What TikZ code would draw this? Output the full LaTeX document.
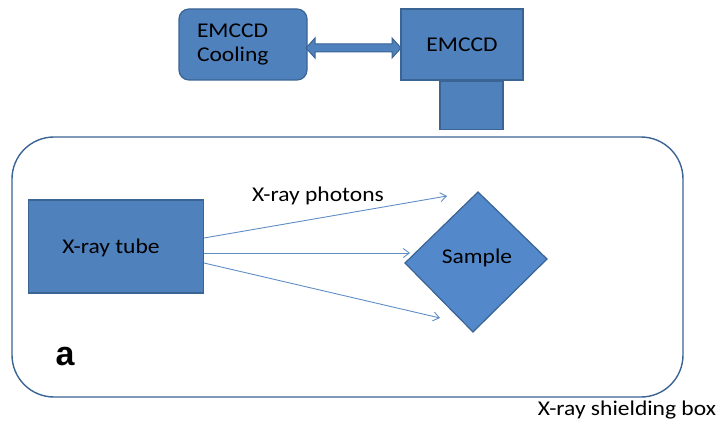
\documentclass[tikz,border=0pt]{standalone}
\usepackage{fontspec}
\setmainfont{Carlito}[FakeStretch=1.12]
\newfontfamily\labelfont{Liberation Sans}[BoldFont={Liberation Sans Bold}]
\usetikzlibrary{shapes.geometric,arrows.meta,calc}
\definecolor{bfill}{HTML}{4F81BD}
\definecolor{sfill}{HTML}{5388CA}
\definecolor{bline}{HTML}{3A6494}
\definecolor{rayc}{HTML}{5F8DC6}
\tikzset{
  x=1pt,y=-1pt,
  blk/.style={draw=bline,fill=bfill,line width=1.2pt,inner sep=0pt,font=\fontsize{21}{24}\selectfont},
  ray/.style={draw=rayc,line width=0.9pt,-{Straight Barb[length=6pt,width=9pt]}},
  lbl/.style={font=\fontsize{21}{24}\selectfont,inner sep=0pt}
}
\begin{document}
\begin{tikzpicture}
\useasboundingbox (0,0) rectangle (723,425);
% shielding box
\draw[draw=bline,line width=1.4pt,rounded corners=42pt] (12,137) rectangle (683,397);
% top blocks
\node[blk,rounded corners=10pt,minimum width=128pt,minimum height=71pt,align=left,text width=92pt] (cool) at (243,44.5) {EMCCD\\Cooling};
\node[blk,minimum width=63pt,minimum height=48pt,anchor=north] (lens) at (471.5,80.6) {};
\node[blk,minimum width=122pt,minimum height=71pt] (ccd) at (462,44.5) {EMCCD};
% double block arrow
\coordinate (al) at (306,48);
\coordinate (ar) at (401,48);
\draw[draw=bline,fill=bfill,line width=1pt] (al) -- ++(9,-10) -- ++(0,6) -- ($(ar)+(-9,-4)$) -- ++(0,-6) -- (ar) -- ++(-9,10) -- ++(0,-6) -- ($(al)+(9,4)$) -- ++(0,6) -- cycle;
% tube
\node[blk,minimum width=175pt,minimum height=93pt,text depth=0pt] (tube) at (116,246.5) {\hspace*{-10pt}X-ray tube};
% sample (slightly tilted diamond)
\coordinate (dt) at (478,192);
\coordinate (dr) at (547,259);
\coordinate (db) at (473,332);
\coordinate (dl) at (405,263);
\draw[draw=bline,fill=sfill,line width=1.2pt] (dt) -- (dr) -- (db) -- (dl) -- cycle;
\node[lbl] (sample) at (477,258) {Sample};
% rays
\coordinate (s1) at (204,238);
\coordinate (s2) at (204,253);
\coordinate (s3) at (204,263);
\coordinate (t1) at (447,196);
\coordinate (t2) at (410,253);
\coordinate (t3) at (440,318);
\draw[ray] (s1) -- (t1);
\draw[ray] (s2) -- (t2);
\draw[ray] (s3) -- (t3);
% labels
\node[lbl] (photons) at (318,196) {X-ray photons};
\node[lbl,font=\fontsize{34}{36}\selectfont\labelfont\bfseries] (a) at (65,357) {a};
\node[lbl] (shield) at (627,410) {X-ray shielding box};
\end{tikzpicture}
\end{document}
